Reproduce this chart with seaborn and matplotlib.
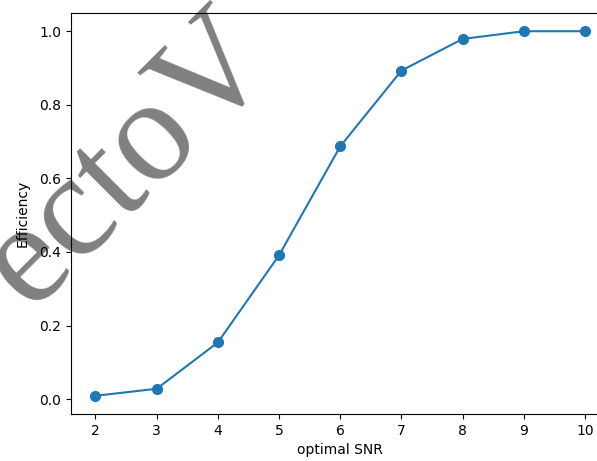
import matplotlib
matplotlib.use("Agg")
import matplotlib.pyplot as plt
from matplotlib import font_manager
from matplotlib.font_manager import FontProperties
import seaborn as sns
import pandas as pd

snr = [2, 3, 4, 5, 6, 7, 8, 9, 10]
efficiency = [0.009, 0.028, 0.154, 0.391, 0.687, 0.893, 0.979, 1.0, 1.0]
watermark = "ectoV"

df = pd.DataFrame({"optimal SNR": snr, "Efficiency": efficiency})

serif_path = font_manager.findfont(FontProperties(family="Liberation Serif"))
wm_font = FontProperties(fname=serif_path, size=106)

fig = plt.figure(figsize=(5.97, 4.61), dpi=100)
ax = fig.add_axes([71 / 597, 1 - 414 / 461, 538.5 / 597, 401 / 461])

sns.lineplot(data=df, x="optimal SNR", y="Efficiency", ax=ax, marker="o",
             color="#1f77b4", markersize=7, markeredgecolor="#1f77b4",
             markeredgewidth=1.0, linewidth=1.5)
ax.margins(x=0.05, y=0.05)
ax.set_xticks(snr)
ax.set_xlabel("optimal SNR")
ax.set_ylabel("Efficiency", labelpad=7)

ax.text(278 / 597, 1 - 62 / 461, watermark, transform=fig.transFigure,
        fontproperties=wm_font, color="#808080",
        rotation=45, rotation_mode="anchor", ha="right", va="baseline",
        zorder=0.5, clip_on=False)

fig.savefig("out.png", dpi=100)
